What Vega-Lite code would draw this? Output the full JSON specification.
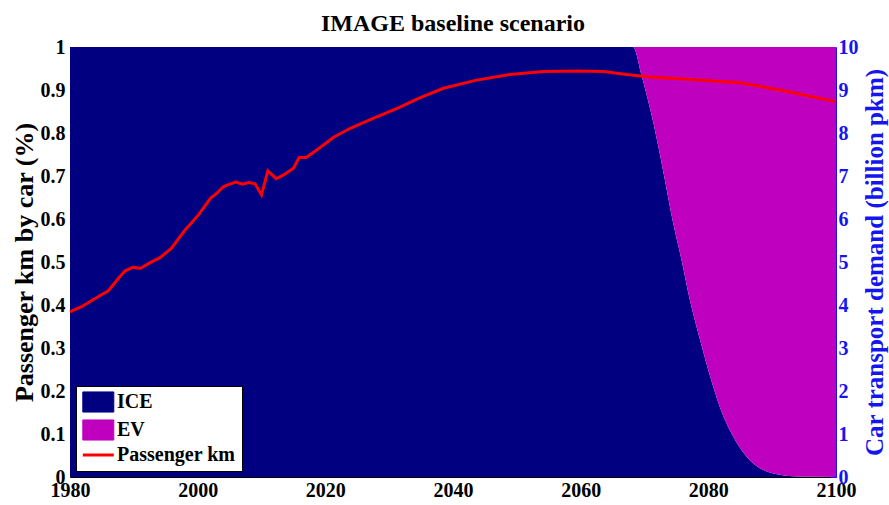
{
  "$schema": "https://vega.github.io/schema/vega-lite/v6.json",
  "autosize": {"type": "none"},
  "padding": {"left": 70, "top": 47, "right": 53, "bottom": 28},
  "width": 766,
  "height": 430,
  "background": "white",
  "title": {"text": "IMAGE baseline scenario", "font": "Liberation Serif", "fontSize": 24, "fontWeight": "bold", "color": "black", "anchor": "middle", "offset": 1},
  "config": {
    "font": "Liberation Serif",
    "view": {"stroke": null},
    "axis": {"labelFont": "Liberation Serif", "labelFontWeight": "bold", "labelFontSize": 20, "labelColor": "black", "titleFont": "Liberation Serif", "titleFontSize": 25, "titleFontWeight": "bold", "titleColor": "black", "grid": false, "domainColor": "black", "labelOverlap": false},
    "legend": {"orient": "none", "legendX": 6, "legendY": 339, "title": null, "fillColor": "white", "strokeColor": "black", "padding": 6,
               "labelFont": "Liberation Serif", "labelFontSize": 20, "labelFontWeight": "bold", "labelColor": "black",
               "symbolSize": 600, "labelOffset": 15, "rowPadding": 2, "symbolStrokeWidth": 1, "symbolOpacity": 1}
  },
  "layer": [
    {
      "layer": [
        {
          "data": {"values": [
            {"year": 1980, "series": "ICE", "lo": 0, "hi": 1}, {"year": 1980, "series": "EV", "lo": 1, "hi": 1},
            {"year": 2068.2, "series": "ICE", "lo": 0, "hi": 1}, {"year": 2068.2, "series": "EV", "lo": 1, "hi": 1},
            {"year": 2069.6, "series": "ICE", "lo": 0, "hi": 0.931}, {"year": 2069.6, "series": "EV", "lo": 0.931, "hi": 1},
            {"year": 2071.4, "series": "ICE", "lo": 0, "hi": 0.823}, {"year": 2071.4, "series": "EV", "lo": 0.823, "hi": 1},
            {"year": 2073.0, "series": "ICE", "lo": 0, "hi": 0.706}, {"year": 2073.0, "series": "EV", "lo": 0.706, "hi": 1},
            {"year": 2074.5, "series": "ICE", "lo": 0, "hi": 0.59}, {"year": 2074.5, "series": "EV", "lo": 0.59, "hi": 1},
            {"year": 2075.8, "series": "ICE", "lo": 0, "hi": 0.505}, {"year": 2075.8, "series": "EV", "lo": 0.505, "hi": 1},
            {"year": 2077.1, "series": "ICE", "lo": 0, "hi": 0.412}, {"year": 2077.1, "series": "EV", "lo": 0.412, "hi": 1},
            {"year": 2078.7, "series": "ICE", "lo": 0, "hi": 0.319}, {"year": 2078.7, "series": "EV", "lo": 0.319, "hi": 1},
            {"year": 2080.3, "series": "ICE", "lo": 0, "hi": 0.233}, {"year": 2080.3, "series": "EV", "lo": 0.233, "hi": 1},
            {"year": 2081.8, "series": "ICE", "lo": 0, "hi": 0.163}, {"year": 2081.8, "series": "EV", "lo": 0.163, "hi": 1},
            {"year": 2083.9, "series": "ICE", "lo": 0, "hi": 0.094}, {"year": 2083.9, "series": "EV", "lo": 0.094, "hi": 1},
            {"year": 2086.0, "series": "ICE", "lo": 0, "hi": 0.047}, {"year": 2086.0, "series": "EV", "lo": 0.047, "hi": 1},
            {"year": 2088.6, "series": "ICE", "lo": 0, "hi": 0.016}, {"year": 2088.6, "series": "EV", "lo": 0.016, "hi": 1},
            {"year": 2091.2, "series": "ICE", "lo": 0, "hi": 0.005}, {"year": 2091.2, "series": "EV", "lo": 0.005, "hi": 1},
            {"year": 2094.0, "series": "ICE", "lo": 0, "hi": 0.001}, {"year": 2094.0, "series": "EV", "lo": 0.001, "hi": 1},
            {"year": 2100, "series": "ICE", "lo": 0, "hi": 0}, {"year": 2100, "series": "EV", "lo": 0, "hi": 1}
          ]},
          "mark": {"type": "area", "interpolate": "monotone", "opacity": 1, "clip": true},
          "encoding": {
            "x": {"field": "year", "type": "quantitative", "scale": {"domain": [1980, 2100], "nice": false, "zero": false},
                  "axis": {"values": [1980, 2000, 2020, 2040, 2060, 2080, 2100], "format": "d", "title": null, "ticks": false, "labelPadding": 3, "labelFlush": false}},
            "y": {"field": "hi", "type": "quantitative", "scale": {"domain": [0, 1], "nice": false},
                  "axis": {"orient": "left", "values": [0, 0.1, 0.2, 0.3, 0.4, 0.5, 0.6, 0.7, 0.8, 0.9, 1], "format": "~g", "title": "Passenger km by car (%)", "titleFontSize": 26, "ticks": false, "labelPadding": 5, "titlePadding": 3}},
            "y2": {"field": "lo"},
            "color": {"field": "series", "type": "nominal",
                      "scale": {"domain": ["ICE", "EV", "Passenger km"], "range": ["#000080", "#BF00BF", "#FF0000"]},
                      "legend": {"symbolType": "M-0.75,-0.82H1.78V0.82H-0.75Z",
                                 "encode": {"symbols": {"update": {
                                   "shape": {"signal": "datum.value === 'Passenger km' ? 'M-0.75,0H1.78' : 'M-0.75,-0.82H1.78V0.82H-0.75Z'"},
                                   "fill": {"signal": "datum.value === 'ICE' ? '#000080' : datum.value === 'EV' ? '#BF00BF' : 'transparent'"},
                                   "stroke": {"signal": "datum.value === 'Passenger km' ? '#FF0000' : '#000000'"},
                                   "strokeWidth": {"signal": "datum.value === 'Passenger km' ? 3 : 1"},
                                   "opacity": {"value": 1}
                                 }}}}}
          }
        },
        {
          "mark": {"type": "rule", "color": "black", "strokeWidth": 1},
          "encoding": {"y": {"datum": 1}}
        }
      ]
    },
    {
      "data": {"values": [
        {"year": 1980, "pkm": 3.84, "series": "Passenger km"},
        {"year": 1981.8, "pkm": 3.96, "series": "Passenger km"},
        {"year": 1984.4, "pkm": 4.19, "series": "Passenger km"},
        {"year": 1986.0, "pkm": 4.33, "series": "Passenger km"},
        {"year": 1987.6, "pkm": 4.62, "series": "Passenger km"},
        {"year": 1988.6, "pkm": 4.79, "series": "Passenger km"},
        {"year": 1989.9, "pkm": 4.88, "series": "Passenger km"},
        {"year": 1991.0, "pkm": 4.85, "series": "Passenger km"},
        {"year": 1992.5, "pkm": 4.98, "series": "Passenger km"},
        {"year": 1994.1, "pkm": 5.10, "series": "Passenger km"},
        {"year": 1995.9, "pkm": 5.32, "series": "Passenger km"},
        {"year": 1998.0, "pkm": 5.74, "series": "Passenger km"},
        {"year": 2000.1, "pkm": 6.09, "series": "Passenger km"},
        {"year": 2002.0, "pkm": 6.48, "series": "Passenger km"},
        {"year": 2003.0, "pkm": 6.60, "series": "Passenger km"},
        {"year": 2004.0, "pkm": 6.75, "series": "Passenger km"},
        {"year": 2005.0, "pkm": 6.81, "series": "Passenger km"},
        {"year": 2006.0, "pkm": 6.86, "series": "Passenger km"},
        {"year": 2007.0, "pkm": 6.81, "series": "Passenger km"},
        {"year": 2008.0, "pkm": 6.85, "series": "Passenger km"},
        {"year": 2009.0, "pkm": 6.82, "series": "Passenger km"},
        {"year": 2010.0, "pkm": 6.56, "series": "Passenger km"},
        {"year": 2011.0, "pkm": 7.12, "series": "Passenger km"},
        {"year": 2012.3, "pkm": 6.94, "series": "Passenger km"},
        {"year": 2013.4, "pkm": 7.02, "series": "Passenger km"},
        {"year": 2015.0, "pkm": 7.18, "series": "Passenger km"},
        {"year": 2015.9, "pkm": 7.43, "series": "Passenger km"},
        {"year": 2017.0, "pkm": 7.43, "series": "Passenger km"},
        {"year": 2018.6, "pkm": 7.60, "series": "Passenger km"},
        {"year": 2021.3, "pkm": 7.90, "series": "Passenger km"},
        {"year": 2023.9, "pkm": 8.11, "series": "Passenger km"},
        {"year": 2027.5, "pkm": 8.34, "series": "Passenger km"},
        {"year": 2031.7, "pkm": 8.60, "series": "Passenger km"},
        {"year": 2034.5, "pkm": 8.80, "series": "Passenger km"},
        {"year": 2038.5, "pkm": 9.04, "series": "Passenger km"},
        {"year": 2043.7, "pkm": 9.23, "series": "Passenger km"},
        {"year": 2048.9, "pkm": 9.36, "series": "Passenger km"},
        {"year": 2054.2, "pkm": 9.43, "series": "Passenger km"},
        {"year": 2059.4, "pkm": 9.44, "series": "Passenger km"},
        {"year": 2063.6, "pkm": 9.43, "series": "Passenger km"},
        {"year": 2067.2, "pkm": 9.36, "series": "Passenger km"},
        {"year": 2070.4, "pkm": 9.31, "series": "Passenger km"},
        {"year": 2078.7, "pkm": 9.23, "series": "Passenger km"},
        {"year": 2085.0, "pkm": 9.17, "series": "Passenger km"},
        {"year": 2091.2, "pkm": 9.00, "series": "Passenger km"},
        {"year": 2100, "pkm": 8.73, "series": "Passenger km"}
      ]},
      "mark": {"type": "line", "strokeWidth": 3, "interpolate": "linear"},
      "encoding": {
        "x": {"field": "year", "type": "quantitative"},
        "y": {"field": "pkm", "type": "quantitative", "scale": {"domain": [0, 10], "nice": false},
              "axis": {"orient": "right", "values": [0, 1, 2, 3, 4, 5, 6, 7, 8, 9, 10], "title": "Car transport demand (billion pkm)", "titleAngle": 270,
                       "labelColor": "#1515F0", "titleColor": "#1515F0", "domainColor": "#1515F0", "tickColor": "#1515F0", "tickSize": -6, "labelPadding": 8, "titlePadding": 29}},
        "color": {"field": "series", "type": "nominal",
                  "legend": {"symbolType": "M-0.75,-0.82H1.78V0.82H-0.75Z",
                             "encode": {"symbols": {"update": {
                               "shape": {"signal": "datum.value === 'Passenger km' ? 'M-0.75,0H1.78' : 'M-0.75,-0.82H1.78V0.82H-0.75Z'"},
                               "fill": {"signal": "datum.value === 'ICE' ? '#000080' : datum.value === 'EV' ? '#BF00BF' : 'transparent'"},
                               "stroke": {"signal": "datum.value === 'Passenger km' ? '#FF0000' : '#000000'"},
                               "strokeWidth": {"signal": "datum.value === 'Passenger km' ? 3 : 1"},
                               "opacity": {"value": 1}
                             }}}}}
      }
    }
  ],
  "resolve": {"scale": {"y": "independent"}}
}
